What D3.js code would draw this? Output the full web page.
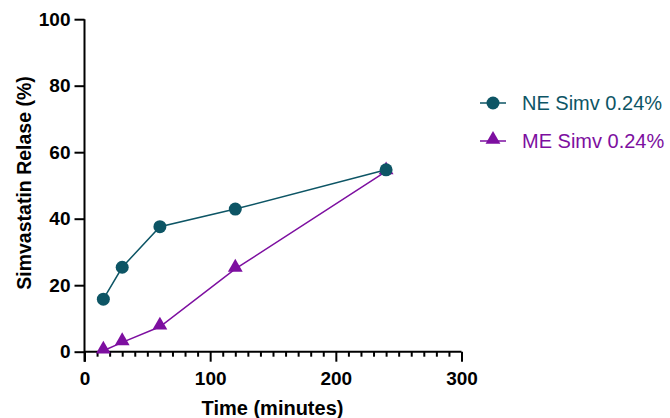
<!DOCTYPE html>
<html>
<head>
<meta charset="utf-8">
<script src="https://cdn.jsdelivr.net/npm/d3@7"></script>
<style>
  body { margin: 0; background: #fff; }
  svg text { font-family: "Liberation Sans", Arial, sans-serif; }
</style>
</head>
<body>
<svg class="graphique" width="670" height="418"></svg>
<script>
// donnees
const times = [15, 30, 60, 120, 240]
const neValues = [15.8, 25.4, 37.6, 42.9, 54.7]
const meValues = [0.3, 2.8, 7.5, 24.9, 54.2]
const seriesNames = ["NE Simv 0.24%", "ME Simv 0.24%"]
const xTicks = [0, 100, 200, 300]
const yTicks = [0, 20, 40, 60, 80, 100]

const teal = "#0d5565", purple = "#7d0fa0"

const svg = d3.select(".graphique")
const x = d3.scaleLinear().domain([0, 300]).range([84.5, 461.5])
const y = d3.scaleLinear().domain([0, 100]).range([351.7, 19.2])

// axe x
const gx = svg.append("g").attr("transform", "translate(0," + y(0) + ")")
gx.call(d3.axisBottom(x).tickValues(d3.range(0, 301, 10)).tickSize(5).tickFormat(""))
gx.selectAll(".tick line").attr("stroke-width", 2)
  .attr("y2", d => d % 100 === 0 ? 10 : 5)
gx.selectAll(".tick").filter(d => xTicks.includes(d)).append("text")
  .attr("y", 33.5).attr("text-anchor", "middle").attr("fill", "#000")
  .style("font-size", "19px").style("font-weight", "bold").text(d => d)
gx.select(".domain").attr("stroke-width", 2).attr("d", "M" + x(0) + ",0H" + x(300))

// axe y
const gy = svg.append("g").attr("transform", "translate(" + x(0) + ",0)")
gy.call(d3.axisLeft(y).tickValues(yTicks).tickSize(10).tickPadding(4))
gy.selectAll(".tick line").attr("stroke-width", 2)
gy.selectAll(".tick text").style("font-size", "19px").style("font-weight", "bold").attr("fill", "#000")
gy.select(".domain").attr("stroke-width", 2).attr("d", "M0," + y(100) + "V" + (y(0) + 10))

// titres
svg.append("text").attr("x", 272.5).attr("y", 415).attr("text-anchor", "middle")
  .style("font-size", "20px").style("font-weight", "bold").text("Time (minutes)")
svg.append("text").attr("transform", "translate(31," + 183 + ") rotate(-90)").attr("text-anchor", "middle")
  .style("font-size", "19.5px").style("font-weight", "bold").text("Simvastatin Relase (%)")

const line = d3.line().x(d => x(d[0])).y(d => y(d[1]))
const tri = d3.symbol().type(d3.symbolTriangle).size(95)

const ne = times.map((t, i) => [t, neValues[i]])
const me = times.map((t, i) => [t, meValues[i]])

svg.append("path").datum(me).attr("d", line).attr("fill", "none").attr("stroke", purple).attr("stroke-width", 1.5)
svg.selectAll(".me").data(me).enter().append("path")
  .attr("transform", d => "translate(" + x(d[0]) + "," + (y(d[1]) - 1.5) + ")")
  .attr("d", tri).attr("fill", purple)

svg.append("path").datum(ne).attr("d", line).attr("fill", "none").attr("stroke", teal).attr("stroke-width", 1.5)
svg.selectAll(".ne").data(ne).enter().append("circle")
  .attr("cx", d => x(d[0])).attr("cy", d => y(d[1])).attr("r", 6.5).attr("fill", teal)

// legende
const legend = [{ name: seriesNames[0], c: teal, y: 103 }, { name: seriesNames[1], c: purple, y: 141 }]
legend.forEach((l, i) => {
  svg.append("line").attr("x1", 480).attr("x2", 506).attr("y1", l.y).attr("y2", l.y)
    .attr("stroke", l.c).attr("stroke-width", 1.5)
  if (i === 0) svg.append("circle").attr("cx", 493).attr("cy", l.y).attr("r", 6.5).attr("fill", l.c)
  else svg.append("path").attr("transform", "translate(493," + (l.y - 1.5) + ")").attr("d", tri).attr("fill", l.c)
  svg.append("text").attr("x", 522).attr("y", l.y + 7).attr("fill", l.c)
    .style("font-size", "20px").text(l.name)
})
</script>
</body>
</html>
